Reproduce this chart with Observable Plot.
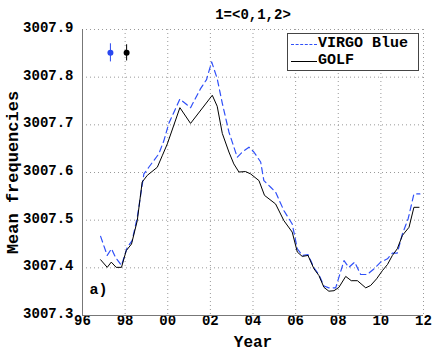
<!DOCTYPE html>
<html>
<head>
<meta charset="utf-8">
<script src="https://cdn.jsdelivr.net/npm/d3@7"></script>
<script src="https://cdn.jsdelivr.net/npm/@observablehq/plot@0.6"></script>
<style>
  body { margin: 0; background: white; }
  #wrap { position: relative; width: 436px; height: 353px; }
  #legend { position: absolute; left: 287px; top: 33px; width: 132px; height: 38px; border: 1px solid #444; background: white; box-sizing: border-box; font-family: "Liberation Mono", monospace; font-weight: bold; font-size: 15px; }
  .row { position: absolute; left: 0; height: 18px; }
  .sample { position: absolute; left: 3px; width: 26px; top: 9px; }
  .lab { position: absolute; left: 30px; top: 0; white-space: nowrap; line-height: 18px; }
</style>
</head>
<body>
<div id="wrap">
  <div id="chart"></div>
  <div id="legend">
    <div class="row" style="top:1px;"><div class="sample" style="border-top:1.3px dashed #3050f8;"></div><div class="lab">VIRGO Blue</div></div>
    <div class="row" style="top:18px;"><div class="sample" style="border-top:1px solid #000;"></div><div class="lab">GOLF</div></div>
  </div>
</div>
<script>
const golfYears = [1996.85,1997.16,1997.35,1997.58,1997.83,1998.05,1998.30,1998.57,1998.80,1999.04,1999.51,1999.74,1999.98,2000.57,2001.07,2002.09,2002.32,2002.56,2002.87,2003.10,2003.34,2003.65,2003.89,2004.28,2004.54,2005.06,2005.45,2005.84,2006.08,2006.31,2006.58,2006.86,2007.09,2007.33,2007.56,2007.80,2008.03,2008.35,2008.61,2008.90,2009.29,2009.52,2009.80,2010.07,2010.31,2010.54,2010.77,2011.01,2011.32,2011.55,2011.79];
const golfValues = [3007.417,3007.401,3007.412,3007.401,3007.401,3007.436,3007.450,3007.499,3007.580,3007.594,3007.611,3007.635,3007.660,3007.736,3007.703,3007.762,3007.739,3007.682,3007.643,3007.618,3007.601,3007.602,3007.597,3007.583,3007.552,3007.534,3007.499,3007.475,3007.433,3007.424,3007.426,3007.398,3007.384,3007.359,3007.351,3007.352,3007.359,3007.382,3007.373,3007.373,3007.358,3007.363,3007.377,3007.394,3007.407,3007.426,3007.440,3007.468,3007.485,3007.527,3007.527];

const virgoYears = [1996.85,1997.16,1997.36,1997.55,1997.83,1998.10,1998.33,1998.57,1998.88,1999.11,1999.58,1999.82,2000.05,2000.57,2001.07,2001.54,2001.82,2002.06,2002.32,2002.56,2002.87,2003.26,2003.50,2003.81,2004.04,2004.36,2004.51,2004.83,2005.06,2005.45,2005.84,2006.08,2006.31,2006.58,2006.86,2007.09,2007.33,2007.56,2007.88,2008.27,2008.50,2008.77,2009.05,2009.36,2009.68,2009.99,2010.31,2010.54,2010.77,2011.01,2011.28,2011.55,2011.83];
const virgoValues = [3007.466,3007.426,3007.440,3007.422,3007.405,3007.443,3007.457,3007.506,3007.597,3007.611,3007.639,3007.667,3007.703,3007.754,3007.736,3007.776,3007.795,3007.832,3007.797,3007.745,3007.685,3007.632,3007.643,3007.653,3007.643,3007.622,3007.583,3007.569,3007.559,3007.520,3007.492,3007.440,3007.426,3007.428,3007.400,3007.386,3007.362,3007.358,3007.358,3007.415,3007.401,3007.412,3007.386,3007.386,3007.398,3007.412,3007.419,3007.431,3007.431,3007.471,3007.503,3007.555,3007.555];

const errSeries = ["VIRGO Blue", "GOLF"];
const errYears = [1997.31, 1998.07];
const errValues = [3007.851, 3007.851];
const errSizes = [0.019, 0.017];

const xTicks = [1996,1998,2000,2002,2004,2006,2008,2010,2012];
const yTicks = [3007.3,3007.4,3007.5,3007.6,3007.7,3007.8,3007.9];

const golf = golfYears.map((x, i) => ({x, y: golfValues[i]}));
const virgo = virgoYears.map((x, i) => ({x, y: virgoValues[i]}));
const errs = errYears.map((x, i) => ({s: errSeries[i], x, y: errValues[i], e: errSizes[i]}));
const colors = {"VIRGO Blue": "#2a48f0", "GOLF": "#000"};
const fmtX = d => String(d % 100).padStart(2, "0");

const chart = Plot.plot({
  width: 436, height: 353,
  marginLeft: 82, marginRight: 13, marginTop: 29, marginBottom: 38,
  style: {fontFamily: "Liberation Mono, monospace", fontWeight: "bold", fontSize: "14px", background: "white", color: "black"},
  x: {domain: [1996, 2012], label: null},
  y: {domain: [3007.3, 3007.9], label: null},
  marks: [
    Plot.gridX(xTicks, {stroke: "#999", strokeOpacity: 1, strokeDasharray: "1,3"}),
    Plot.gridY(yTicks, {stroke: "#999", strokeOpacity: 1, strokeDasharray: "1,3"}),
    Plot.axisX(xTicks, {tickFormat: fmtX, tickSize: 0, tickPadding: 0, label: null, fontSize: 14}),
    Plot.axisY(yTicks, {tickFormat: d => d.toFixed(1), tickSize: 0, tickPadding: 9, dy: -2, label: null, fontSize: 14}),
    Plot.ruleX([1996], {stroke: "#777"}),
    Plot.ruleY([3007.3], {stroke: "#777"}),
    Plot.line(virgo, {x: "x", y: "y", stroke: "#3050f8", strokeWidth: 1.2, strokeDasharray: "6,4"}),
    Plot.line(golf, {x: "x", y: "y", stroke: "#000", strokeWidth: 1}),
    Plot.ruleX(errs, {x: "x", y1: d => d.y - d.e, y2: d => d.y + d.e, stroke: d => colors[d.s], strokeWidth: 1}),
    Plot.dot(errs, {x: "x", y: "y", fill: d => colors[d.s], r: 3}),
    Plot.text(["a)"], {frameAnchor: "bottom-left", dx: 7, dy: -22, fontSize: 15}),
    Plot.text(["1=<0,1,2>"], {frameAnchor: "top", lineAnchor: "middle", dy: -15, fontSize: 14}),
    Plot.text(["Year"], {frameAnchor: "bottom", lineAnchor: "middle", dy: 26, fontSize: 16}),
    Plot.text(["Mean frequencies"], {frameAnchor: "left", textAnchor: "middle", lineAnchor: "middle", dx: -70, rotate: -90, fontSize: 17})
  ]
});
document.getElementById("chart").appendChild(chart);
</script>
</body>
</html>
